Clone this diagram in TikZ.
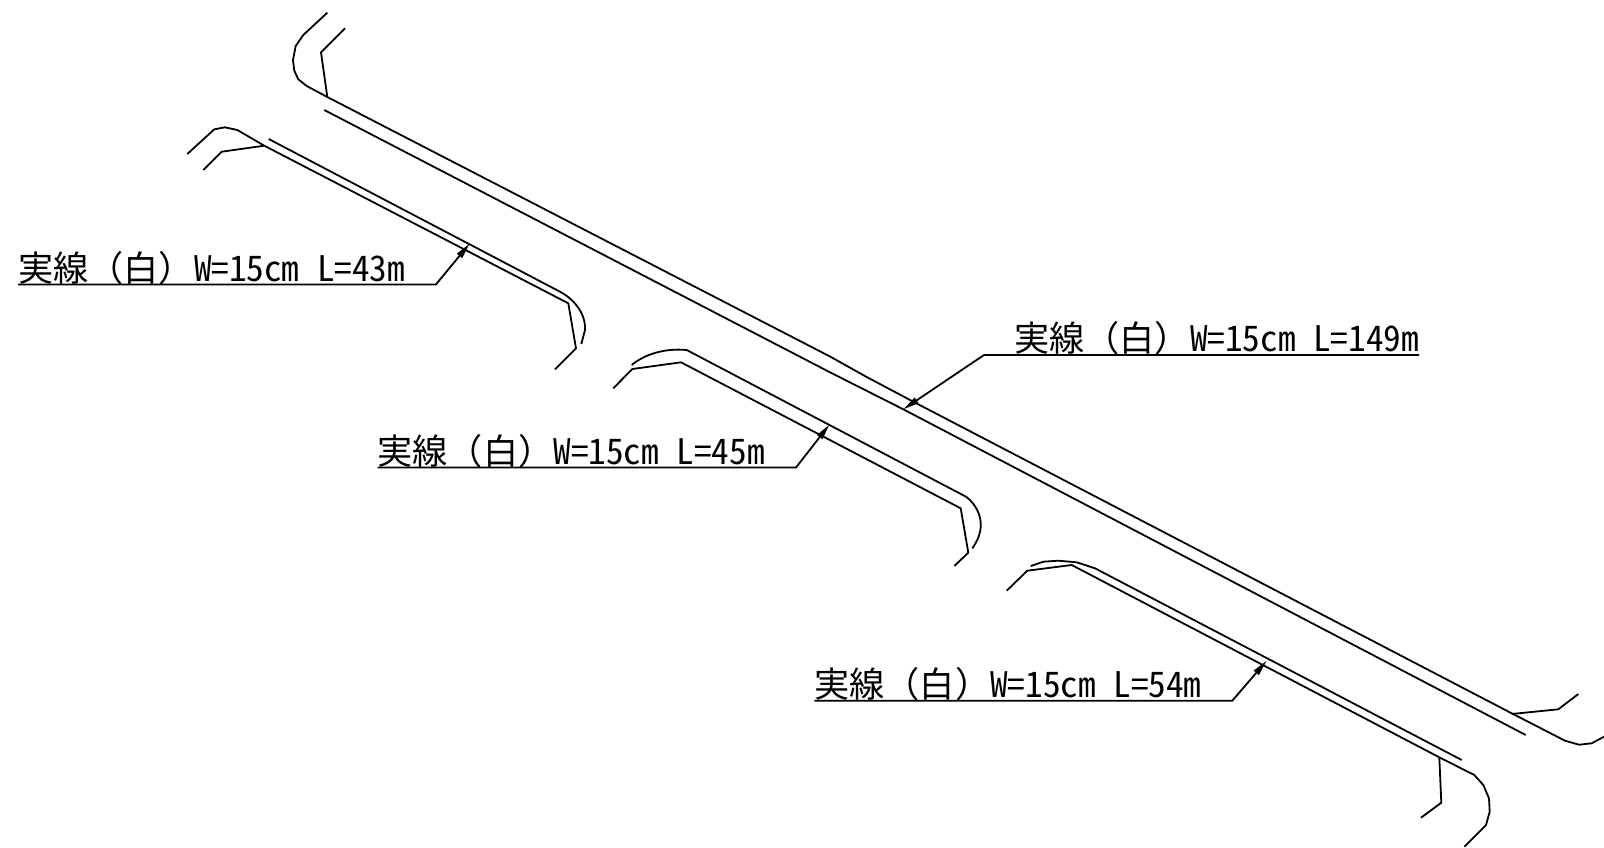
\documentclass[tikz,border=0pt]{standalone}
\usepackage{fontspec}
\usetikzlibrary{arrows.meta}
\newfontfamily\jpfont[RawFeature=+hwid]{Noto Sans CJK JP}
\newfontfamily\jpfull{Noto Sans CJK JP}
\newcommand{\lblhead}{{\jpfull 実線（白）}}
\tikzset{
  road/.style={draw=black,line width=1.35pt,line join=round},
  leader/.style={draw=black,line width=1.35pt,-{Triangle[length=12pt,width=4.8pt]}},
  lbl/.style={anchor=base west,inner sep=0pt,outer sep=0pt,font=\jpfont\fontsize{26.4pt}{28pt}\selectfont}
}
\begin{document}
\begin{tikzpicture}[x=0.75pt,y=-0.75pt]
\useasboundingbox (0,0) rectangle (1604,847);
% main road
\draw[road] (327.3,12.7) -- (303.3,35) -- (295.7,46) -- (293,60) -- (294.3,70.7) -- (298.3,79.3) -- (306.7,86) -- (327.3,97) -- (830,356.5) -- (866.7,377) -- (913.3,401.7) -- (1511.7,713.3) -- (1565,740.7) -- (1579,744.7) -- (1591.7,743.3) -- (1604,736.7);
\draw[road] (345,28.3) -- (321,52.3) -- (327.3,97);
\draw[road] (324.3,110) -- (830,372.3) -- (903.3,409.3) -- (1525.7,735);
\draw[road] (1511.7,714) -- (1558.3,709.3) -- (1578.3,694);
% left segment
\draw[road] (187.3,154) -- (214.3,129.3) -- (225,127.3) -- (237.3,130) -- (264.3,145.7) -- (568.3,303.3) -- (576,348.3) -- (555,369.3);
\draw[road] (203.3,170) -- (221.7,151.7) -- (264.3,145.7);
\draw[road] (268.7,139) -- (560,291.7) .. controls (572,298) and (586,312) .. (585,330) -- (581.3,344);
% middle segment
\draw[road] (631.7,365) .. controls (645,354) and (665,348) .. (686.7,350) -- (966,496.7) .. controls (976,504) and (990,524) .. (972.3,548.3);
\draw[road] (613.3,388.3) -- (632.3,369) -- (681,362.3) -- (960.7,508.3) -- (968.3,552.7) -- (954.3,566);
% right segment
\draw[road] (1030.7,566) -- (1043.3,561.7) -- (1058.3,560.7) -- (1076.7,562.3) -- (1095,568.3) -- (1461.7,760);
\draw[road] (1006.7,590.7) -- (1027.3,570.7) -- (1071.7,565) -- (1439.3,757.3) -- (1474.3,775) -- (1483.3,785) -- (1489,798.3) -- (1489.7,811.7) -- (1486,825) -- (1464.3,846.7);
\draw[road] (1439.3,757.3) -- (1441.3,802.7) -- (1421,817.7);
% labels
\node[lbl] (t1) at (18,281) {\lblhead W=15cm L=43m};
\coordinate (u1a) at (18,284.4); \coordinate (u1b) at (436,284.4); \coordinate (p1) at (469.7,243.5);
\draw[leader] (u1a) -- (u1b) -- (p1);
\node[lbl] (t2) at (377.5,464) {\lblhead W=15cm L=45m};
\coordinate (u2a) at (377.5,467.5); \coordinate (u2b) at (796,467.5); \coordinate (p2) at (829.5,424.5);
\draw[leader] (u2a) -- (u2b) -- (p2);
\node[lbl] (t3) at (1014,351) {\lblhead W=15cm L=149m};
\coordinate (u3a) at (1419,355); \coordinate (u3b) at (984,355); \coordinate (p3) at (903.3,409.3);
\draw[leader] (u3a) -- (u3b) -- (p3);
\node[lbl] (t4) at (814.3,697) {\lblhead W=15cm L=54m};
\coordinate (u4a) at (814.3,700.7); \coordinate (u4b) at (1232.3,700.7); \coordinate (p4) at (1266.7,660.7);
\draw[leader] (u4a) -- (u4b) -- (p4);
\end{tikzpicture}
\end{document}
